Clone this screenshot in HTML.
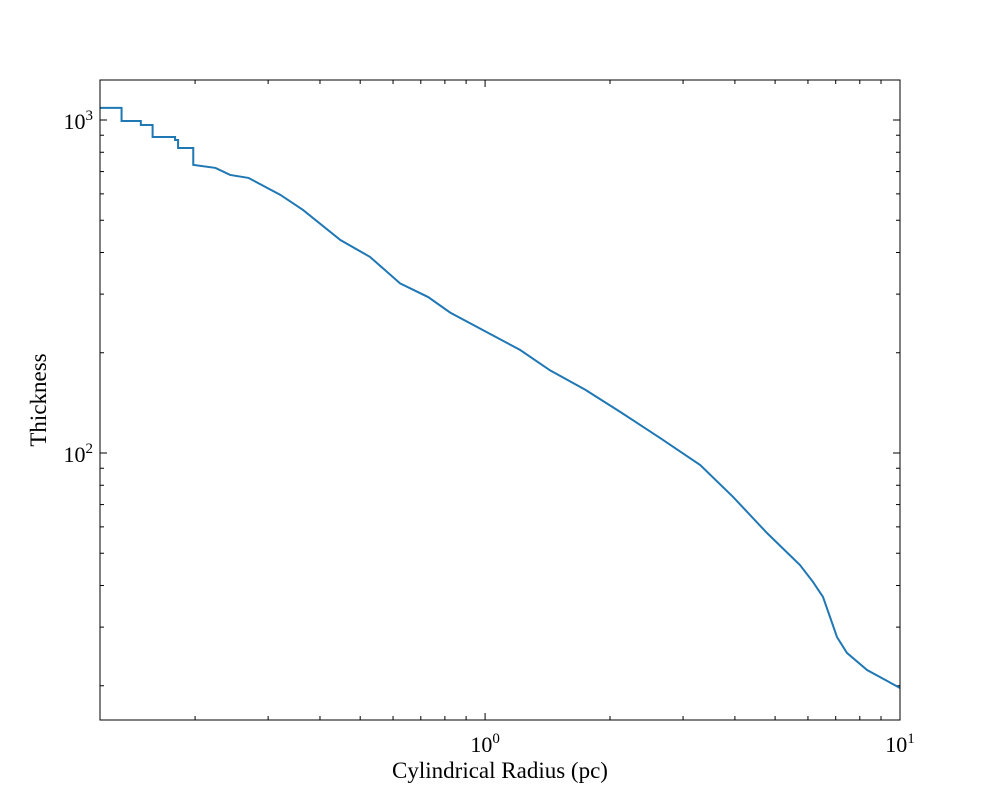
<!DOCTYPE html>
<html><head><meta charset="utf-8"><style>
html,body{margin:0;padding:0;background:#fff;}
svg text{font-family:"Liberation Serif","DejaVu Serif",serif;fill:#000;}
</style></head><body>
<svg id="chart" width="1000" height="800" viewBox="0 0 1000 800" xmlns="http://www.w3.org/2000/svg">
<rect x="0" y="0" width="1000" height="800" fill="#fff"/>
<g id="ticks"></g>
<path id="series" fill="none" stroke="#1f77b4" stroke-width="2"/>
<rect x="100" y="80" width="800" height="640" fill="none" stroke="#000" stroke-width="1"/>
<text x="500" y="778" font-size="23" text-anchor="middle">Cylindrical Radius  (pc)</text>
<text x="0" y="0" font-size="23" text-anchor="middle" transform="translate(46,400) rotate(-90)">Thickness</text>
</svg>
<script>
const radius = [0.118,0.133,0.133,0.148,0.158,0.158,0.179,0.182,0.198,0.198,0.224,0.243,0.269,0.321,0.364,0.448,0.528,0.624,0.729,0.824,1.0,1.214,1.435,1.742,2.114,2.64,3.30,3.96,4.78,5.74,6.17,6.52,6.78,7.05,7.45,8.33,10];
const thickness = [1087,1087,993,966,946,889,871,824,813,733,718,684,670,596,537,436,388,323,294,264,232,204,177,155,133,111,92.0,73.8,57.5,46.1,41.0,37.0,32.2,28.0,25.1,22.3,19.7];
const xTickValues = [1,10];
const xTickLabels = ["0","1"];
const yTickValues = [100,1000];
const yTickLabels = ["2","3"];
const X0=100,X1=900,Y0=80,Y1=720;
const xmin=Math.log10(0.118),xmax=1;
const ymax=3+40/333, ymin=2-267/333;
function sx(v){return X0+(Math.log10(v)-xmin)/(xmax-xmin)*(X1-X0);}
function sy(v){return Y0+(ymax-Math.log10(v))/(ymax-ymin)*(Y1-Y0);}
const NS='http://www.w3.org/2000/svg';
let d='M'+sx(radius[0])+','+sy(thickness[0]);
for(let i=1;i<radius.length;i++){
  if(radius[i]<0.21){d+=' H'+sx(radius[i])+' V'+sy(thickness[i]);}
  else d+=' L'+sx(radius[i])+','+sy(thickness[i]);
}
document.getElementById('series').setAttribute('d',d);
const g=document.getElementById('ticks');
function line(x1,y1,x2,y2){const l=document.createElementNS(NS,'line');
l.setAttribute('x1',x1);l.setAttribute('y1',y1);l.setAttribute('x2',x2);l.setAttribute('y2',y2);
l.setAttribute('stroke','#000');l.setAttribute('stroke-width','1');


g.appendChild(l);}
for(let e=-1;e<=1;e++)for(let m=1;m<10;m++){const v=m*Math.pow(10,e);
 if(v<0.118||v>10)continue;const x=sx(v);const L=m===1?7:4;
 line(x,Y1,x,Y1-L);line(x,Y0,x,Y0+L);}
for(let e=1;e<=3;e++)for(let m=1;m<10;m++){const v=m*Math.pow(10,e);
 const y=sy(v);if(y<Y0||y>Y1)continue;const L=m===1?7:4;
 line(X0,y,X0+L,y);line(X1,y,X1-L,y);}
function label(x,y,exp,anchor,name){const t=document.createElementNS(NS,'text');
 t.setAttribute('x',x);t.setAttribute('y',y);t.setAttribute('font-size','22');t.setAttribute('text-anchor',anchor);
 
 
 t.textContent='10';const s=document.createElementNS(NS,'tspan');s.setAttribute('font-size','15');s.setAttribute('dy','-9');s.textContent=exp;t.appendChild(s);g.appendChild(t);}
xTickValues.forEach((v,i)=>label(sx(v),752,xTickLabels[i],'middle','x-tick-label'));
yTickValues.forEach((v,i)=>label(93,sy(v)+9,yTickLabels[i],'end','y-tick-label'));
</script>
</body></html>
